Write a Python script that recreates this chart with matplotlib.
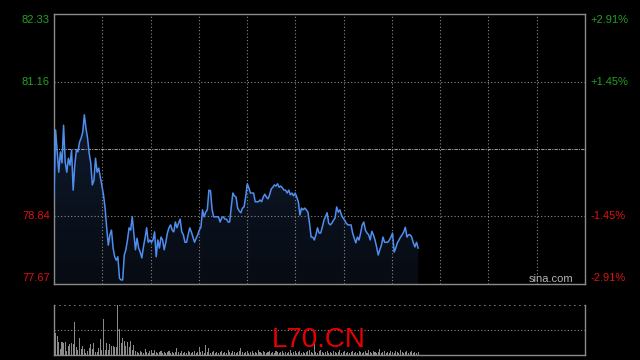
import matplotlib
matplotlib.use("Agg")
import matplotlib.pyplot as plt
import numpy as np
from matplotlib.colors import LinearSegmentedColormap

plt.rcParams['font.family'] = ['Liberation Sans', 'DejaVu Sans']

# ---------------- data ----------------
prev_close = 80.00
price_ticks = [82.33, 81.16, 78.84, 77.67]
pct_labels = ['+2.91%', '+1.45%', '-1.45%', '-2.91%']
symbol = 'L70.CN'
watermark = 'sina.com'

prices = [
    79.21, 80.33, 79.95, 79.60, 79.95, 79.76, 80.41, 79.78, 79.60, 79.84,
    79.72, 79.98, 79.29, 79.72, 79.98, 79.95, 80.12, 80.19, 80.29, 80.59,
    80.36, 80.19, 79.93, 79.76, 79.38, 79.46, 79.84, 79.60, 79.67, 79.52,
    79.38, 79.21, 78.98, 78.64, 78.34, 78.52, 78.60, 78.29, 78.14, 78.08,
    78.14, 77.77, 77.74,
    77.74, 78.17, 78.26, 78.43, 78.64, 78.60, 78.83, 78.55, 78.26, 78.46,
    78.29, 78.22, 78.12, 78.31, 78.46, 78.64, 78.39, 78.43, 78.39, 78.43,
    78.57, 78.14, 78.43, 78.29, 78.48, 78.43, 78.26, 78.39, 78.55, 78.64,
    78.69, 78.60, 78.57, 78.74, 78.64, 78.72, 78.79, 78.57, 78.52, 78.39,
    78.39, 78.52, 78.64, 78.57, 78.48, 78.39, 78.46, 78.52,
    78.60, 78.65, 78.95, 78.83, 78.91, 78.95, 79.29, 79.28, 78.95, 78.83,
    78.83, 78.83, 78.83, 78.74, 78.81, 78.83, 78.79, 78.79, 78.74, 78.74,
    79.00, 79.24, 79.19, 79.17, 78.98, 78.93, 78.90, 78.98, 79.00, 79.17,
    79.40, 79.33, 79.24, 79.24, 79.24, 79.09, 79.09, 79.09, 79.12, 79.09,
    79.17, 79.22, 79.17, 79.14,
    79.21, 79.31, 79.34, 79.38, 79.36, 79.40, 79.34, 79.36, 79.33, 79.29,
    79.29, 79.24, 79.29, 79.21, 79.24, 79.19, 79.24, 79.17, 79.09, 78.86,
    78.98, 78.95, 78.98, 78.95, 78.91, 78.72, 78.48, 78.48, 78.43, 78.52,
    78.64, 78.55, 78.55, 78.65, 78.77, 78.83, 78.90, 78.72, 78.69, 78.72,
    78.77, 78.81, 79.00, 78.91, 78.95, 78.86, 78.81, 78.77, 78.72, 78.69,
    78.69, 78.69, 78.55, 78.46, 78.38, 78.48, 78.43, 78.55, 78.69, 78.74,
    78.60, 78.55, 78.52, 78.43, 78.58, 78.52, 78.43, 78.31, 78.17, 78.26,
    78.34, 78.48, 78.39, 78.39, 78.39, 78.43, 78.48, 78.55, 78.22, 78.29,
    78.38, 78.43, 78.48, 78.52, 78.57, 78.65, 78.48, 78.52, 78.52, 78.48,
    78.38, 78.31, 78.39, 78.29,
]

volumes = [
    32, 22, 19, 13, 6, 13, 12, 13, 4, 9,
    11, 12, 11, 33, 8, 5, 17, 6, 9, 6,
    2, 4, 7, 11, 6, 12, 3, 3, 7, 16,
    5, 36, 5, 12, 5, 11, 9, 9, 8, 8,
    50, 26, 12, 17, 14, 9, 13, 8, 14, 5,
    10, 4,
    3, 2, 4, 3, 2, 6, 3, 2, 4, 5,
    2, 5, 3, 2, 3, 4, 2, 3, 2, 3,
    4, 2, 3, 2, 3, 7, 3, 2, 4, 2,
    3, 2, 4, 3, 2, 3, 4, 2, 3, 8,
    3, 4, 2, 10, 3, 7, 2, 3, 4, 2,
    3, 2, 3, 4, 2, 3, 2, 5, 3, 2,
    4, 3, 2, 3, 4, 7, 3, 2, 3, 4,
    2, 3, 4, 2, 3, 2, 5, 3, 2, 4,
    3, 2, 3, 4, 2, 3, 2, 4, 3, 2,
    3, 4, 2, 3, 2, 3, 5, 2, 3, 4,
    2, 3, 4, 2, 3, 2, 3, 4, 5, 3,
    2, 15, 3, 2, 4, 5, 3, 2, 3, 4,
    2, 3, 2, 4, 3, 2, 3, 5, 2, 3,
    4, 2, 3, 2, 3, 4, 2, 3, 2, 4,
    3, 2, 3, 4, 2, 5, 3, 2, 4, 3,
    2, 3, 6, 2, 3, 4, 2, 3, 2, 4,
    3, 2, 4, 3, 2, 5, 3, 2, 3, 4,
    2, 3, 4, 2, 3, 2, 3,
]
volumes = [v * 100 for v in volumes]

# ---------------- layout ----------------
W, H = 640, 360
session_slots = 332.5
n_div = 11
ymin, ymax = price_ticks[-1], price_ticks[0]
grid_col = '#8a8a8a'
frame_col = '#8c8c8c'
green = '#22a022'
red = '#dd1111'

fig = plt.figure(figsize=(6.4, 3.6), dpi=100, facecolor='black')
ax = fig.add_axes([54 / W, 1 - 284 / H, 531 / W, 270 / H])
ax.set_facecolor('black')
x = np.arange(len(prices))

# gradient area under the line
poly = ax.fill_between(x, prices, ymin, color='none', linewidth=0)
grad = np.linspace(0, 1, 256).reshape(-1, 1)
cmap = LinearSegmentedColormap.from_list('g', ['#070b12', '#0f1a2d'])
im = ax.imshow(grad, extent=[x[0], x[-1], ymin, max(prices)], aspect='auto',
               cmap=cmap, origin='lower', zorder=1, interpolation='bilinear')
im.set_clip_path(poly.get_paths()[0], transform=ax.transData)

ax.plot(x, prices, color='#4f8ef0', lw=1.1, zorder=3)

for k in range(1, n_div):
    ax.axvline(session_slots * k / n_div, color=grid_col, ls=(0, (1, 2)), lw=0.8, zorder=2)
for p in (price_ticks[1], price_ticks[2]):
    ax.axhline(p, color=grid_col, ls=(0, (1, 2)), lw=0.8, zorder=2)
ax.axhline(prev_close, color='#9a9a9a', ls=(0, (3, 1, 1, 1)), lw=0.8, zorder=2)

ax.set_xlim(0, session_slots)
ax.set_ylim(ymin, ymax)
ax.set_xticks([])
ax.set_yticks([])
for s in ax.spines.values():
    s.set_color(frame_col)
    s.set_linewidth(1)

for i, (p, lab) in enumerate(zip(price_ticks, pct_labels)):
    col = green if p > prev_close else red
    va = 'top' if i == 0 else ('bottom' if i == len(price_ticks) - 1 else 'center')
    dy = -0.5 if i == 0 else (0.5 if i == len(price_ticks) - 1 else 0)
    ax.annotate(f'{p:.2f}', xy=(0, p), xycoords=('axes fraction', 'data'),
                xytext=(-3, dy), textcoords='offset points', ha='right', va=va,
                color=col, fontsize=8)
    ax.annotate(lab, xy=(1, p), xycoords=('axes fraction', 'data'),
                xytext=(4, dy), textcoords='offset points', ha='left', va=va,
                color=col, fontsize=8)

ax.text((573 - 54) / 531, 1.5 / 270, watermark, transform=ax.transAxes,
        ha='right', va='baseline', color='#b4b4b4', fontsize=8, zorder=4)

# volume panel
ax2 = fig.add_axes([54 / W, 1 - 355 / H, 531 / W, 50 / H])
ax2.set_facecolor('black')
ax2.bar(x, volumes, width=0.65, color='#8a8a8a', linewidth=0, zorder=2)
vmax = max(volumes)
ax2.set_xlim(0, session_slots)
ax2.set_ylim(0, vmax)
ax2.axhline(vmax / 2, color=grid_col, ls=(0, (1, 2)), lw=0.8, zorder=1)
ax2.axhline(vmax, color=grid_col, ls=(0, (1, 2)), lw=1.2, zorder=1)
ax2.set_xticks([])
ax2.set_yticks([])
ax2.spines['top'].set_visible(False)
for s in ('left', 'right', 'bottom'):
    ax2.spines[s].set_color(frame_col)
    ax2.spines[s].set_linewidth(1)

fig.text(319 / W, 1 - 340 / H, symbol, color='#e60000', fontsize=20,
         ha='center', va='center', zorder=10)

fig.savefig('out.png', dpi=100, facecolor='black')
